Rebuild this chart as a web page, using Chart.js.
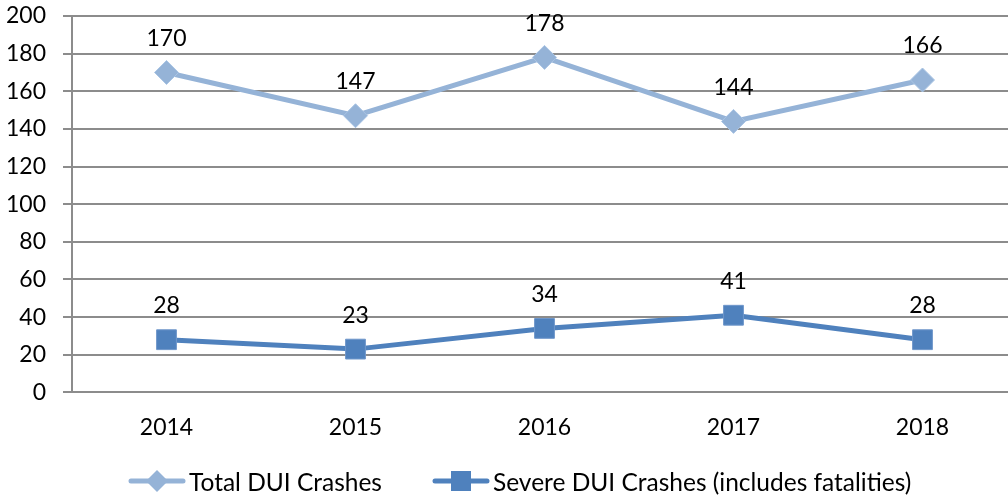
<!DOCTYPE html>
<html>
<head>
<meta charset="utf-8">
<script src="https://cdn.jsdelivr.net/npm/chart.js@4/dist/chart.umd.min.js"></script>
<style>
  html, body { margin: 0; padding: 0; background: #fff; overflow: hidden; }
  #wrap { position: relative; width: 1032px; height: 495px; }
  #legend {
    position: absolute; left: 128px; top: 466px;
    display: flex; align-items: center;
    font-family: Lato, sans-serif; font-size: 24.5px; color: #000;
  }
  .item { display: flex; align-items: center; margin-right: 50px; }
  .item canvas { margin-right: 3px; }
</style>
</head>
<body>
<div id="wrap">
  <canvas id="chart" width="1032" height="495"></canvas>
  <div id="legend"></div>
</div>
<script>
const years = ['2014', '2015', '2016', '2017', '2018'];
const totalCrashes = [170, 147, 178, 144, 166];
const severeCrashes = [28, 23, 34, 41, 28];
const yTicks = [0, 20, 40, 60, 80, 100, 120, 140, 160, 180, 200];

const totalColor = '#95B3D7';
const severeColor = '#4F81BD';
const gridColor = '#8C8C8C';
const font = 'Lato, sans-serif';

// value labels above each point
const valueLabels = {
  id: 'valueLabels',
  afterDatasetsDraw(chart) {
    const ctx = chart.ctx;
    ctx.save();
    ctx.font = '23px ' + font;
    ctx.fillStyle = '#000';
    ctx.textAlign = 'center';
    ctx.textBaseline = 'middle';
    chart.data.datasets.forEach((ds, i) => {
      chart.getDatasetMeta(i).data.forEach((pt, j) => {
        ctx.fillText(ds.data[j], pt.x, pt.y - 34);
      });
    });
    ctx.restore();
  }
};

const chart = new Chart(document.getElementById('chart'), {
  type: 'line',
  data: {
    labels: years,
    datasets: [{
      label: 'Total DUI Crashes',
      data: totalCrashes,
      borderColor: totalColor,
      backgroundColor: totalColor,
      borderWidth: 5,
      pointStyle: 'rectRot',
      pointRadius: 12,
      pointBorderWidth: 1,
      pointBorderColor: '#A9C4E4',
      tension: 0
    }, {
      label: 'Severe DUI Crashes (includes fatalities)',
      data: severeCrashes,
      borderColor: severeColor,
      backgroundColor: severeColor,
      borderWidth: 5,
      pointStyle: 'rect',
      pointRadius: 14,
      pointBorderWidth: 1,
      pointBorderColor: '#6F97CB',
      tension: 0
    }]
  },
  options: {
    responsive: false,
    animation: false,
    layout: { padding: { top: 16, right: 3, bottom: 33, left: 0 } },
    plugins: {
      legend: { display: false },
      tooltip: { enabled: false }
    },
    scales: {
      x: {
        offset: true,
        grid: { display: true, drawOnChartArea: false, drawTicks: false },
        border: { display: true, color: gridColor, width: 2 },
        ticks: { color: '#000', font: { family: font, size: 23 }, padding: 21 },
        afterFit: axis => { axis.paddingLeft = 0; axis.paddingRight = 0; }
      },
      y: {
        min: 0,
        max: 200,
        afterBuildTicks: axis => { axis.ticks = yTicks.map(v => ({ value: v })); },
        afterFit: axis => { axis.width = 72; axis.paddingTop = 0; axis.paddingBottom = 0; },
        grid: { color: gridColor, lineWidth: 2, tickLength: 9 },
        border: { display: true, color: gridColor, width: 2 },
        ticks: { color: '#000', font: { family: font, size: 23 }, padding: 17 }
      }
    }
  },
  plugins: [valueLabels]
});

// legend built from the datasets
const legend = document.getElementById('legend');
chart.data.datasets.forEach(ds => {
  const item = document.createElement('div');
  item.className = 'item';
  const c = document.createElement('canvas');
  c.width = 58; c.height = 30;
  const g = c.getContext('2d');
  g.strokeStyle = ds.borderColor;
  g.lineWidth = 5;
  g.lineCap = 'round';
  g.beginPath(); g.moveTo(3, 15); g.lineTo(55, 15); g.stroke();
  g.fillStyle = ds.backgroundColor;
  g.beginPath();
  if (ds.pointStyle === 'rectRot') {
    g.moveTo(29 - 11, 15); g.lineTo(29, 4); g.lineTo(29 + 11, 15); g.lineTo(29, 26);
  } else {
    g.rect(19, 5, 20, 20);
  }
  g.closePath(); g.fill();
  const span = document.createElement('span');
  span.textContent = ds.label;
  item.appendChild(c);
  item.appendChild(span);
  legend.appendChild(item);
});
</script>
</body>
</html>
